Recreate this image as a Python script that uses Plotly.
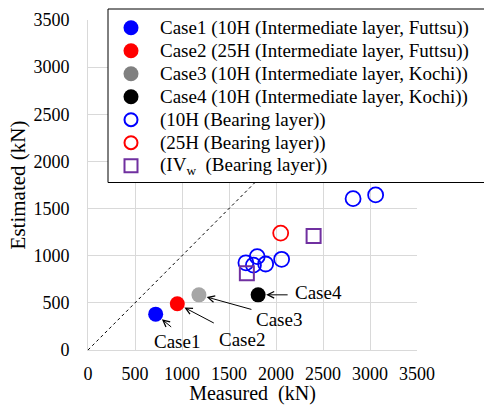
import plotly.graph_objects as go

# Measured vs estimated capacity (kN)
case_names = ["Case1 (10H (Intermediate layer, Futtsu))",
              "Case2 (25H (Intermediate layer, Futtsu))",
              "Case3 (10H (Intermediate layer, Kochi))",
              "Case4 (10H (Intermediate layer, Kochi))"]
case_labels = ["Case1", "Case2", "Case3", "Case4"]
case_measured = [720, 950, 1180, 1810]
case_estimated = [380, 490, 585, 585]
case_colors = ["#0000FF", "#FF0000", "#A6A6A6", "#000000"]
case_legend_colors = ["#0000FF", "#FF0000", "#808080", "#000000"]

bearing_names = ["(10H (Bearing layer))", "(25H (Bearing layer))",
                 "(IV<sub>w</sub>\u00a0 (Bearing layer))"]

bearing10_measured = [1680, 1760, 1800, 1890, 2060, 2820, 3060]
bearing10_estimated = [925, 900, 990, 912, 962, 1605, 1645]

bearing25_measured = [2050]
bearing25_estimated = [1240]

ivw_measured = [1690, 2400]
ivw_estimated = [815, 1210]

line_range = [0, 3500]
ticks = [0, 500, 1000, 1500, 2000, 2500, 3000, 3500]

# label offsets (pixels) for the case callouts: text position and arrow tail
label_text_shift = [(21, -27), (65, -36), (80, -25), (60, 2)]
arrow_tail = [(17, -14), (38, -20), (54, -15), (31, 0)]

FONT = "Liberation Serif, Times New Roman, serif"

# plot area geometry in pixels (used for the boxed key)
W, H = 484, 405
ML, MR, MT, MB = 88, 67, 20, 55
PW, PH = W - ML - MR, H - MT - MB


def px_x(p):
    return (p - ML) / PW


def px_y(p):
    return (H - MB - p) / PH


fig = go.Figure()

# 1:1 reference line
fig.add_trace(go.Scatter(x=line_range, y=line_range, mode="lines",
                         line=dict(color="black", width=1, dash="dot"),
                         showlegend=False, hoverinfo="skip"))

for mx, es, col in zip(case_measured, case_estimated, case_colors):
    fig.add_trace(go.Scatter(x=[mx], y=[es], mode="markers",
                             marker=dict(size=15, color=col), showlegend=False))

fig.add_trace(go.Scatter(x=bearing10_measured, y=bearing10_estimated, mode="markers",
                         marker=dict(size=15, color="#0000FF", symbol="circle-open",
                                     line=dict(width=1.8)), showlegend=False))
fig.add_trace(go.Scatter(x=bearing25_measured, y=bearing25_estimated, mode="markers",
                         marker=dict(size=15, color="#FF0000", symbol="circle-open",
                                     line=dict(width=1.8)), showlegend=False))
fig.add_trace(go.Scatter(x=ivw_measured, y=ivw_estimated, mode="markers",
                         marker=dict(size=14, color="#7030A0", symbol="square-open",
                                     line=dict(width=2)), showlegend=False))

annotations = []
for lab, mx, es, (tx, ty), (ax, ay) in zip(case_labels, case_measured, case_estimated,
                                           label_text_shift, arrow_tail):
    annotations.append(dict(x=mx, y=es, xref="x", yref="y", text="", showarrow=True,
                            arrowhead=5, arrowsize=1.3, arrowwidth=1, arrowcolor="black",
                            ax=ax, ay=-ay, standoff=8))
    annotations.append(dict(x=mx, y=es, xref="x", yref="y", text=lab, showarrow=False,
                            xshift=tx, yshift=ty, font=dict(size=19, color="black", family=FONT)))

# boxed key
shapes = [dict(type="rect", xref="paper", yref="paper", layer="above",
               x0=px_x(108), x1=px_x(520), y0=px_y(182.5), y1=px_y(9),
               fillcolor="white", line=dict(color="black", width=1))]

key_names = case_names + bearing_names
key_styles = ([("circle", c, c, 0) for c in case_legend_colors] +
              [("circle", "white", "#0000FF", 2), ("circle", "white", "#FF0000", 2),
               ("rect", "white", "#7030A0", 2)])
row0, row_step = 27.7, 23.0
mark_x, text_x = 131, 158
for i, (name, (kind, fill, edge, lw)) in enumerate(zip(key_names, key_styles)):
    yc = row0 + i * row_step
    r = 7.5 if lw == 0 else 6.5
    shapes.append(dict(type=kind, xref="paper", yref="paper", layer="above",
                       xsizemode="pixel", ysizemode="pixel",
                       xanchor=px_x(mark_x), yanchor=px_y(yc),
                       x0=-r, x1=r, y0=-r, y1=r,
                       fillcolor=fill, line=dict(color=edge, width=lw)))
    annotations.append(dict(x=px_x(text_x), y=px_y(yc), xref="paper", yref="paper",
                            xanchor="left", yanchor="middle", showarrow=False,
                            text=name, font=dict(size=19, color="black", family=FONT)))

axis_common = dict(range=[0, 3500], tickvals=ticks, showgrid=True, gridcolor="#D9D9D9",
                   gridwidth=1, zeroline=False, showline=True, linecolor="#D9D9D9",
                   tickfont=dict(size=18, color="black", family=FONT),
                   ticks="outside", tickcolor="rgba(0,0,0,0)", mirror=False)

fig.update_layout(
    width=W, height=H,
    margin=dict(l=ML, r=MR, t=MT, b=MB, autoexpand=False),
    paper_bgcolor="white", plot_bgcolor="white",
    font=dict(family=FONT, color="black"),
    xaxis=dict(title=dict(text="Measured\u00a0 (kN)", font=dict(size=20, family=FONT), standoff=7),
               ticklen=7, **axis_common),
    yaxis=dict(title=dict(text="Estimated (kN)", font=dict(size=21, family=FONT), standoff=2),
               ticklen=14, **axis_common),
    shapes=shapes,
    annotations=annotations,
    showlegend=False,
)

fig.write_html("out.html")
